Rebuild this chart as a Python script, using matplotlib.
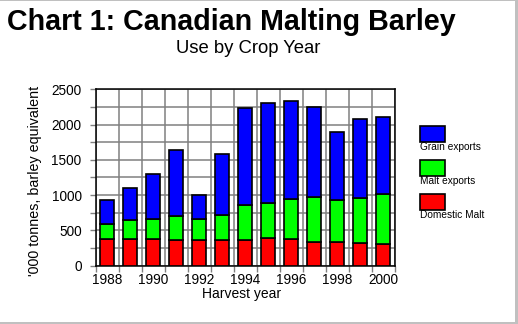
import matplotlib.pyplot as plt
from matplotlib.patches import Rectangle
from matplotlib.ticker import FuncFormatter, MultipleLocator
import numpy as np

plt.rcParams['font.family'] = ['Liberation Sans', 'DejaVu Sans']

# Data ('000 tonnes, barley equivalent)
years = [1988, 1989, 1990, 1991, 1992, 1993, 1994, 1995, 1996, 1997, 1998, 1999, 2000]
domestic_malt = [373, 380, 373, 359, 359, 359, 359, 388, 373, 331, 331, 317, 302]
malt_exports = [215, 267, 284, 340, 303, 359, 496, 496, 567, 638, 595, 638, 709]
grain_exports = [337, 449, 638, 936, 340, 860, 1376, 1418, 1395, 1281, 964, 1124, 1092]

series = [("Domestic Malt", domestic_malt, "#ff0000"),
          ("Malt exports", malt_exports, "#00ff00"),
          ("Grain exports", grain_exports, "#0000ff")]

W, H = 518, 324
fig = plt.figure(figsize=(W / 100, H / 100), dpi=100)
ax = fig.add_axes([95.5 / W, 1 - 265.7 / H, 299 / W, 176.4 / H])

x = np.array(years)
bottom = np.zeros(len(years))
for name, vals, col in series:
    ax.bar(x, vals, width=0.58, bottom=bottom, color=col, edgecolor="black",
           linewidth=1.2, zorder=3)
    bottom += np.array(vals)

ax.set_xlim(years[0] - 0.5, years[-1] + 0.5)
ax.set_ylim(0, 2500)

# x: labels under even years, gridlines/ticks at year boundaries
ax.set_xticks(years[::2])
ax.set_xticklabels([str(y) for y in years[::2]])
ax.set_xticks(np.arange(years[0] - 0.5, years[-1] + 1), minor=True)
ax.tick_params(axis="x", which="major", length=0, pad=5, labelsize=9.8)
ax.tick_params(axis="x", which="minor", length=4, color="#808080", width=1)
ax.grid(axis="x", which="minor", color="#808080", linewidth=1.1, zorder=0)

# y: ticks every 250, labels every 500
ax.yaxis.set_major_locator(MultipleLocator(250))
ax.yaxis.set_major_formatter(FuncFormatter(lambda v, p: f"{int(v)}" if v % 500 == 0 else ""))
ax.tick_params(axis="y", length=4, color="#808080", width=1, pad=6, labelsize=9.8)
ax.grid(axis="y", which="major", color="#808080", linewidth=1.1, zorder=0)
ax.set_axisbelow(True)

for s in ax.spines.values():
    s.set_color("black")
    s.set_linewidth(1.1)

fig.text(7 / W, 1 - 30 / H, "Chart 1: Canadian Malting Barley", fontsize=20.6,
         fontweight="bold", ha="left", va="baseline")
fig.text(248 / W, 1 - 53 / H, "Use by Crop Year", fontsize=13.3, ha="center", va="baseline")
fig.text(35 / W, 1 - 181 / H, "'000 tonnes, barley equivalent", fontsize=10.3,
         rotation=90, ha="center", va="center")
fig.text(242 / W, 1 - 298 / H, "Harvest year", fontsize=10, ha="center", va="baseline")

# legend: swatch with caption underneath
for i, (name, vals, col) in enumerate(series[::-1]):
    top = 126 + 34 * i
    fig.add_artist(Rectangle((420 / W, 1 - (top + 15.5) / H), 24.5 / W, 15.5 / H,
                             transform=fig.transFigure, facecolor=col,
                             edgecolor="black", linewidth=1.2))
    fig.text(420 / W, 1 - (top + 24.5) / H, name, fontsize=7.3, ha="left",
             va="baseline")

# grey window frame
frame = "#c0c0c0"
fig.add_artist(Rectangle((0, 1 - 1 / H), 1, 1 / H, transform=fig.transFigure,
                         facecolor=frame, edgecolor="none"))
fig.add_artist(Rectangle((1 - 3 / W, 0), 3 / W, 1, transform=fig.transFigure,
                         facecolor=frame, edgecolor="none"))
fig.add_artist(Rectangle((0, 0), 1, 2 / H, transform=fig.transFigure,
                         facecolor=frame, edgecolor="none"))

fig.savefig("out.png", dpi=100)
